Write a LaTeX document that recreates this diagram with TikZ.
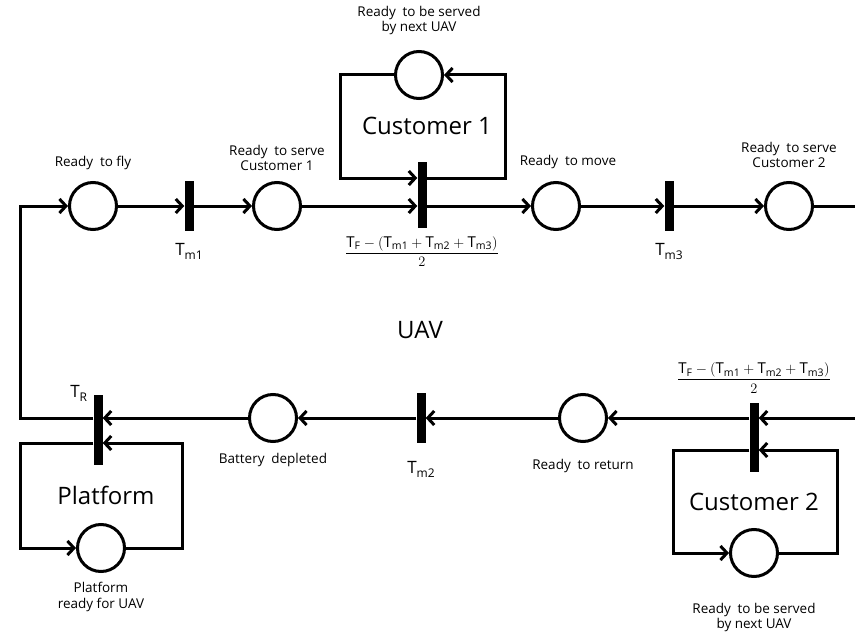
\documentclass[tikz,border=0pt]{standalone}
\usepackage{amsmath}
\usepackage{fontspec}
\setmainfont{Open Sans}
\usetikzlibrary{arrows.meta, positioning}
\newcommand\tidx[1]{\raisebox{-0.45ex}{\fontsize{12}{12}\selectfont #1}}

\begin{document}
\begin{tikzpicture}[x=1pt, y=-1pt,
    place/.style={circle, draw, line width=3pt, minimum size=47pt, inner sep=0pt},
    bar/.style={rectangle, fill=black, minimum width=9pt, inner sep=0pt},
    arc/.style={line width=3pt, -{Straight Barb[length=6.5pt, width=14pt]}},
    wire/.style={line width=3pt},
    note/.style={font=\fontsize{13.5}{15.5}\selectfont, align=center, inner sep=0pt},
    big/.style={font=\fontsize{24}{28}\selectfont, inner sep=0pt},
    tlab/.style={font=\fontsize{17}{20}\selectfont, inner sep=0pt},
    frac/.style={font=\fontsize{15}{17}\selectfont, inner sep=0pt}
]
    \useasboundingbox (0,0) rectangle (855,634);

    % upper row
    \node[place] (p1) at (93,206) {};
    \node[bar, minimum height=50pt] (t1) at (189,206) {};
    \node[place] (p2) at (277,206) {};
    \node[bar, minimum height=66pt] (t2) at (422,195) {};
    \node[place] (q1) at (419,75) {};
    \node[place] (p3) at (556,206) {};
    \node[bar, minimum height=50pt] (t3) at (669,206) {};
    \node[place] (p4) at (789,206) {};
    \coordinate (eR1) at (855,206);

    % lower row
    \coordinate (eR2) at (855,418);
    \node[bar, minimum height=69pt] (t4) at (754,437) {};
    \node[place] (q2) at (754,553) {};
    \node[place] (p5) at (583,418) {};
    \node[bar, minimum height=50pt] (t5) at (421,418) {};
    \node[place] (p6) at (273,418) {};
    \node[bar, minimum height=70pt] (tR) at (98,430) {};
    \node[place] (q3) at (101,548) {};

    % corners of the loops
    \coordinate (lft) at (20,418);
    \coordinate (c1l) at (340,178);
    \coordinate (c1r) at (505,178);
    \coordinate (c2l) at (673,450);
    \coordinate (c2r) at (837,450);
    \coordinate (pfl) at (20,443);
    \coordinate (pfr) at (182,443);

    % arcs
    \draw[arc] (p1) -- (t1);
    \draw[arc] (t1) -- (p2);
    \draw[arc] (p2) -- (p2 -| t2.west);
    \draw[arc] (t2.east |- p3) -- (p3);
    \draw[arc] (p3) -- (t3);
    \draw[arc] (t3) -- (p4);
    \draw[wire] (p4) -- (eR1);
    \draw[arc] (t2.east |- c1r) -- (c1r) |- (q1);
    \draw[arc] (q1) -| (c1l) -- (t2.west |- c1l);

    \draw[arc] (eR2) -- (eR2 -| t4.east);
    \draw[arc] (t4.west |- eR2) -- (p5);
    \draw[arc] (t4.west |- c2l) -- (c2l) |- (q2);
    \draw[arc] (q2) -| (c2r) -- (t4.east |- c2r);
    \draw[arc] (p5) -- (t5);
    \draw[arc] (t5) -- (p6);
    \draw[arc] (p6) -- (p6 -| tR.east);
    \draw[arc] (tR.west |- p6) -- (lft) |- (p1);
    \draw[arc] (tR.west |- pfl) -- (pfl) |- (q3);
    \draw[arc] (q3) -| (pfr) -- (tR.east |- pfr);

    % labels
    \node[note, above=11pt of p1] {Ready\enspace to fly};
    \node[note, above=10pt of p2] {Ready\enspace to serve\\Customer 1};
    \node[note, above=15pt of q1] {Ready\enspace to be served\\by next UAV};
    \node[note, above=12pt of p3, xshift=12pt] {Ready\enspace to move};
    \node[note, above=13pt of p4] {Ready\enspace to serve\\Customer 2};
    \node[note, below=16pt of p5] {Ready\enspace to return};
    \node[note, below=10pt of p6] {Battery\enspace depleted};
    \node[note, below=9pt of q3] {Platform\\ready for UAV};
    \node[note, below=25pt of q2] {Ready\enspace to be served\\by next UAV};

    \node[tlab, below=12pt of t1] {T\tidx{m1}};
    \node[tlab, below=12pt of t3] {T\tidx{m3}};
    \node[tlab, below=18pt of t5] {T\tidx{m2}};
    \node[tlab, anchor=north east] at ([xshift=-6pt, yshift=10pt]tR.north west) {T\tidx{R}};
    \node[frac, below=8pt of t2] {$\dfrac{\mathrm{T_F}-(\mathrm{T_{m1}}+\mathrm{T_{m2}}+\mathrm{T_{m3}})}{2}$};
    \node[frac, above=9pt of t4] {$\dfrac{\mathrm{T_F}-(\mathrm{T_{m1}}+\mathrm{T_{m2}}+\mathrm{T_{m3}})}{2}$};

    \node[big] (cus1) at (427,126) {Customer 1};
    \node[big] (cus2) at (754,502) {Customer 2};
    \node[big] (plat) at (106,495) {Platform};
    \node[big] (uav) at (420,330) {UAV};
\end{tikzpicture}
\end{document}
